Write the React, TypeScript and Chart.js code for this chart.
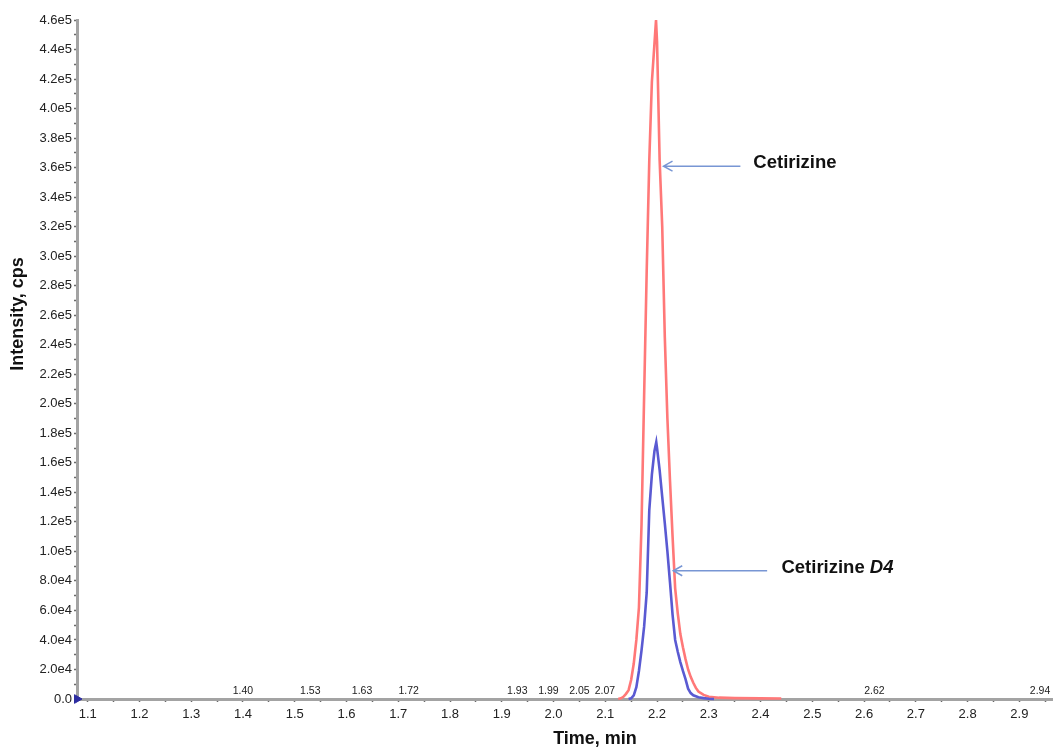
import React, { useEffect, useRef } from "react";
import { Chart, registerables } from "chart.js";

Chart.register(...registerables);

// ---- data ----
const cetirizineTimes = [2.125, 2.13, 2.135, 2.14, 2.145, 2.15, 2.155, 2.16, 2.165, 2.17, 2.175, 2.18, 2.185, 2.19, 2.195, 2.198, 2.2, 2.205, 2.21, 2.215, 2.22, 2.225, 2.23, 2.235, 2.24, 2.245, 2.25, 2.255, 2.26, 2.265, 2.27, 2.275, 2.28, 2.29, 2.3, 2.32, 2.35, 2.4, 2.44];
const cetirizineValues = [0, 500, 1500, 3500, 6000, 13000, 24000, 40000, 62000, 118000, 205000, 290000, 365000, 418000, 444000, 460000, 445000, 365000, 320000, 245000, 190000, 148000, 110000, 75000, 58000, 44000, 35000, 27000, 20000, 15000, 11000, 7500, 5000, 2800, 1500, 900, 600, 400, 300];

const d4Times = [2.145, 2.15, 2.155, 2.16, 2.165, 2.17, 2.175, 2.18, 2.185, 2.19, 2.195, 2.1985, 2.2, 2.205, 2.21, 2.215, 2.22, 2.225, 2.23, 2.235, 2.24, 2.245, 2.25, 2.255, 2.26, 2.265, 2.27, 2.28, 2.29, 2.3, 2.31];
const d4Values = [0, 500, 2500, 8000, 19000, 33000, 49000, 72000, 128000, 152000, 168000, 174000, 170000, 155000, 137000, 119000, 100000, 79000, 57000, 40000, 32000, 25000, 19000, 13500, 7000, 4000, 2500, 1200, 600, 200, 0];

const peakLabelTimes = [1.4, 1.53, 1.63, 1.72, 1.93, 1.99, 2.05, 2.07, 2.62, 2.94];
const peakLabelTexts = ["1.40", "1.53", "1.63", "1.72", "1.93", "1.99", "2.05", "2.07", "2.62", "2.94"];

const xMin = 1.0793;
const xMax = 2.965;
const yMin = 0;
const yMax = 460000;
const xTickValues = [1.1, 1.15, 1.2, 1.25, 1.3, 1.35, 1.4, 1.45, 1.5, 1.55, 1.6, 1.65, 1.7, 1.75, 1.8, 1.85, 1.9, 1.95, 2.0, 2.05, 2.1, 2.15, 2.2, 2.25, 2.3, 2.35, 2.4, 2.45, 2.5, 2.55, 2.6, 2.65, 2.7, 2.75, 2.8, 2.85, 2.9, 2.95];
const yTickValues = [0, 10000, 20000, 30000, 40000, 50000, 60000, 70000, 80000, 90000, 100000, 110000, 120000, 130000, 140000, 150000, 160000, 170000, 180000, 190000, 200000, 210000, 220000, 230000, 240000, 250000, 260000, 270000, 280000, 290000, 300000, 310000, 320000, 330000, 340000, 350000, 360000, 370000, 380000, 390000, 400000, 410000, 420000, 430000, 440000, 450000, 460000];

const annotationMain = ["Cetirizine", "Cetirizine "];
const annotationItalic = ["", "D4"];
const arrowTipTimes = [2.2125, 2.2313];
const arrowTailTimes = [2.361, 2.4127];
const arrowLevels = [361000, 86900];
const annotationTextTimes = [2.386, 2.4403];
const annotationTextLevels = [363000, 88750];

const xTitle = "Time, min";
const yTitle = "Intensity, cps";

const FONT = '"Liberation Sans", Arial, Helvetica, sans-serif';

function formatY(v: number): string {
  if (v === 0) return "0.0";
  const e = Math.floor(Math.log10(v) + 1e-9);
  const m = v / Math.pow(10, e);
  return m.toFixed(1) + "e" + e;
}

const overlayPlugin = {
  id: "overlay",
  afterDraw(chart: any) {
    const ctx = chart.ctx as CanvasRenderingContext2D;
    const xs = chart.scales.x;
    const ys = chart.scales.y;
    ctx.save();
    // peak labels
    ctx.font = `10.5px ${FONT}`;
    ctx.fillStyle = "#222";
    ctx.textAlign = "left";
    ctx.textBaseline = "middle";
    let prevRight = -1000;
    const baseY = ys.getPixelForValue(0) - 8;
    peakLabelTimes.forEach((t, i) => {
      const txt = peakLabelTexts[i];
      const w = ctx.measureText(txt).width;
      let left = xs.getPixelForValue(t) - w / 2;
      if (left < prevRight + 5) left = prevRight + 5;
      ctx.fillText(txt, left, baseY);
      prevRight = left + w;
    });
    // arrows + annotation text
    ctx.strokeStyle = "#7896d4";
    ctx.lineWidth = 1.5;
    arrowTipTimes.forEach((t, i) => {
      const tipX = xs.getPixelForValue(t);
      const tailX = xs.getPixelForValue(arrowTailTimes[i]);
      const y = ys.getPixelForValue(arrowLevels[i]);
      ctx.beginPath();
      ctx.moveTo(tailX, y);
      ctx.lineTo(tipX, y);
      ctx.moveTo(tipX + 9, y - 5);
      ctx.lineTo(tipX, y);
      ctx.lineTo(tipX + 9, y + 5);
      ctx.stroke();
      const tx = xs.getPixelForValue(annotationTextTimes[i]);
      const ty = ys.getPixelForValue(annotationTextLevels[i]);
      ctx.fillStyle = "#111";
      ctx.textBaseline = "middle";
      ctx.textAlign = "left";
      ctx.font = `bold 18.5px ${FONT}`;
      ctx.fillText(annotationMain[i], tx, ty);
      const w = ctx.measureText(annotationMain[i]).width;
      if (annotationItalic[i]) {
        ctx.font = `italic bold 18.5px ${FONT}`;
        ctx.fillText(annotationItalic[i], tx + w, ty);
      }
    });
    // axis titles
    ctx.fillStyle = "#111";
    ctx.font = `bold 18px ${FONT}`;
    ctx.textAlign = "center";
    ctx.textBaseline = "middle";
    ctx.fillText(xTitle, 595, 739);
    ctx.translate(18, 314);
    ctx.rotate(-Math.PI / 2);
    ctx.fillText(yTitle, 0, 0);
    ctx.restore();
  },
};

export default function App() {
  const ref = useRef<HTMLCanvasElement | null>(null);
  useEffect(() => {
    if (!ref.current) return;
    const chart = new Chart(ref.current, {
      type: "line",
      data: {
        datasets: [
          {
            label: "start",
            data: [{ x: xMin, y: 0 }],
            showLine: false,
            pointStyle: "triangle",
            rotation: 90,
            pointRadius: 5,
            backgroundColor: "#2c2ca0",
            borderColor: "#2c2ca0",
            clip: false as any,
          },
          {
            label: "Cetirizine D4",
            data: d4Times.map((t, i) => ({ x: t, y: d4Values[i] })),
            borderColor: "#5a5ad2",
            borderWidth: 2.6,
            pointRadius: 0,
            tension: 0,
            clip: false as any,
          },
          {
            label: "Cetirizine",
            data: cetirizineTimes.map((t, i) => ({ x: t, y: cetirizineValues[i] })),
            borderColor: "#ff7878",
            borderWidth: 2.6,
            pointRadius: 0,
            tension: 0,
            clip: false as any,
          },
        ],
      },
      options: {
        animation: false,
        responsive: false,
        maintainAspectRatio: false,
        layout: { autoPadding: false, padding: { top: 20, left: 0, right: 0, bottom: 0 } },
        plugins: { legend: { display: false }, tooltip: { enabled: false } },
        scales: {
          x: {
            type: "linear",
            min: xMin,
            max: xMax,
            border: { color: "#a3a3a3", width: 3 },
            grid: { drawOnChartArea: false, drawTicks: true, tickLength: 3, color: "#6a6a6a", tickWidth: 1.5 },
            ticks: {
              autoSkip: false,
              maxRotation: 0,
              padding: 5,
              color: "#222",
              font: { family: FONT, size: 13 },
              callback: (v: any) => {
                const n = Number(v);
                return Math.abs(n * 10 - Math.round(n * 10)) < 1e-6 ? n.toFixed(1) : "";
              },
            },
            afterBuildTicks: (s: any) => {
              s.ticks = xTickValues.map((v) => ({ value: v }));
            },
            afterFit: (s: any) => {
              s.height = 50;
              s.paddingRight = 0;
              s.paddingLeft = 0;
            },
          },
          y: {
            type: "linear",
            min: yMin,
            max: yMax,
            border: { color: "#a3a3a3", width: 3 },
            grid: { drawOnChartArea: false, drawTicks: true, tickLength: 3, color: "#6a6a6a", tickWidth: 1.5 },
            ticks: {
              autoSkip: false,
              padding: 2,
              color: "#222",
              font: { family: FONT, size: 13 },
              callback: (v: any) => {
                const n = Number(v);
                return n % 20000 === 0 ? formatY(n) : "";
              },
            },
            afterBuildTicks: (s: any) => {
              s.ticks = yTickValues.map((v) => ({ value: v }));
            },
            afterFit: (s: any) => {
              s.width = 77;
              s.paddingTop = 0;
              s.paddingBottom = 0;
            },
          },
        },
      },
      plugins: [overlayPlugin],
    });
    return () => chart.destroy();
  }, []);
  return (
    <div style={{ position: "absolute", left: 0, top: 0, width: 1053, height: 749, background: "#fff" }}>
      <canvas ref={ref} width={1053} height={749} style={{ width: 1053, height: 749, display: "block" }} />
    </div>
  );
}
